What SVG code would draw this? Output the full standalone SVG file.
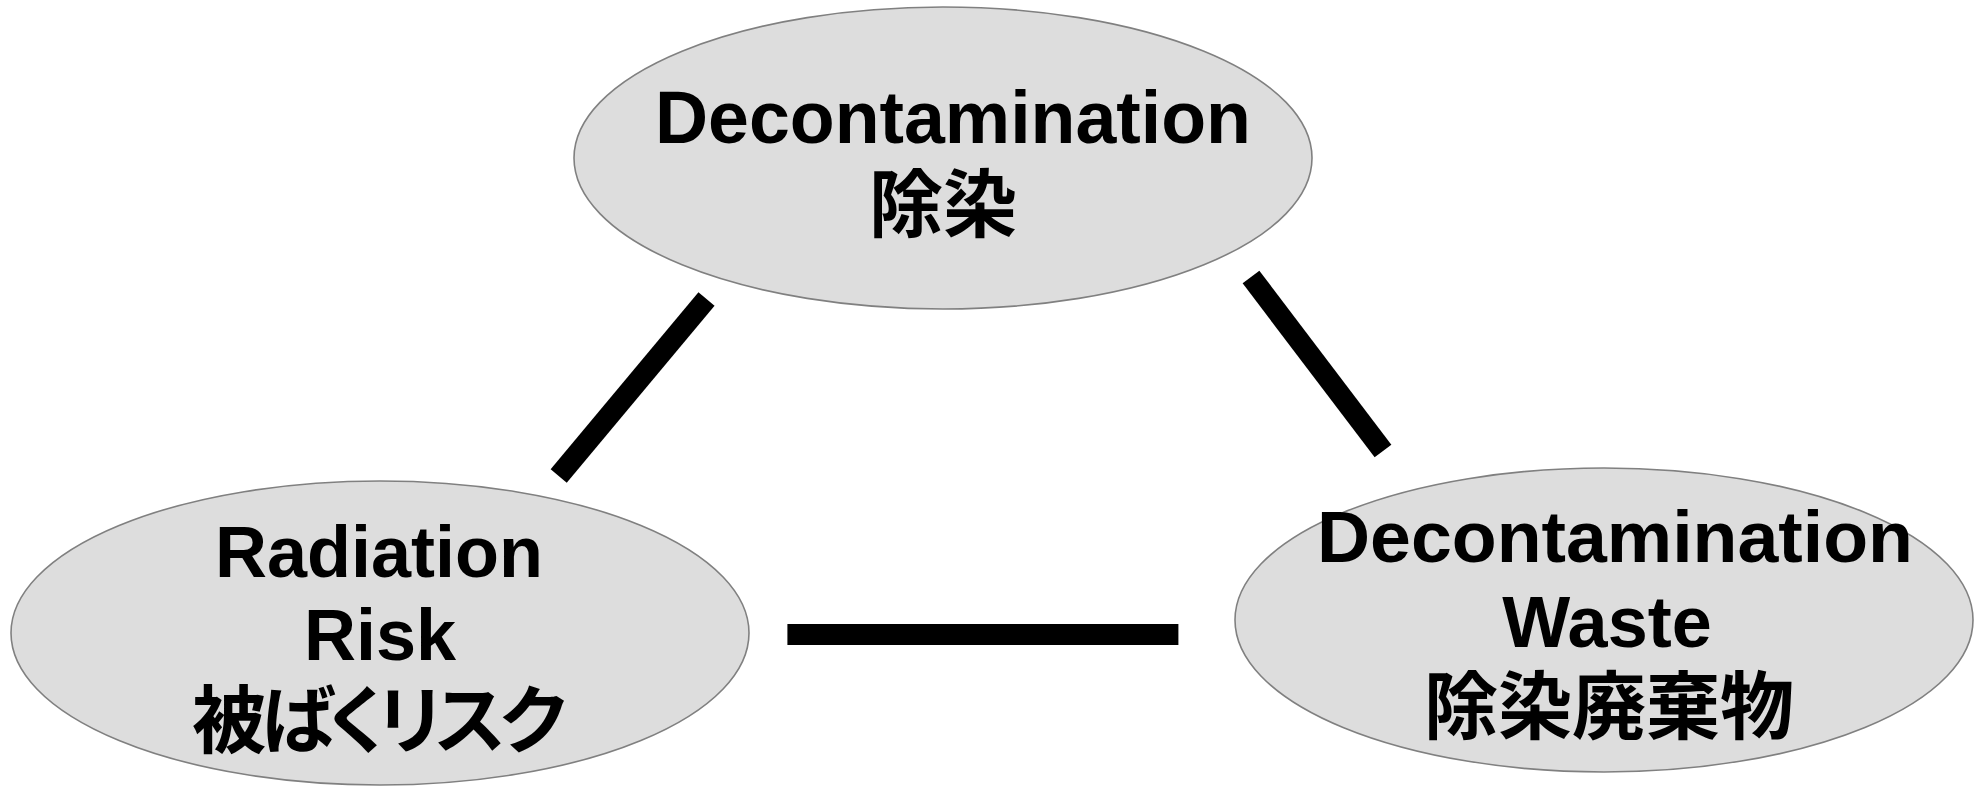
<svg xmlns="http://www.w3.org/2000/svg" width="1976" height="787" viewBox="0 0 1976 787">
<style>
.node ellipse{fill:#dddddd;stroke:#808080;stroke-width:1.6}
.lat{font-family:"Liberation Sans",Arial,sans-serif;font-weight:bold;font-size:72px;fill:#000;text-anchor:middle}
.cjk{font-family:"Liberation Sans","Noto Sans CJK JP",sans-serif;font-weight:bold;font-size:74px;fill:#000;text-anchor:middle}
.conn line{stroke:#000;stroke-width:21;stroke-linecap:butt}
</style>
<rect width="1976" height="787" fill="#ffffff"/>
<g id="connectors" class="conn">
<line x1="706.5" y1="299" x2="558.7" y2="476"/>
<line x1="1251" y1="277" x2="1383" y2="451"/>
<line x1="787.4" y1="634.5" x2="1178.4" y2="634.5"/>
</g>
<g id="decontamination" class="node">
<ellipse cx="943" cy="158" rx="369" ry="151"/>
<text class="lat" x="953" y="143.3" style="font-size:74px" textLength="596" lengthAdjust="spacingAndGlyphs">Decontamination</text>
<text class="cjk" x="943" y="231">除染</text>
</g>
<g id="radiation-risk" class="node">
<ellipse cx="380" cy="633" rx="369" ry="152"/>
<text class="lat" x="379" y="576.7">Radiation</text>
<text class="lat" x="380" y="660">Risk</text>
<text class="cjk" x="379" y="747" style="font-feature-settings:'palt'" textLength="374" lengthAdjust="spacing">被ばくリスク</text>
</g>
<g id="decontamination-waste" class="node">
<ellipse cx="1604" cy="620" rx="369" ry="152"/>
<text class="lat" x="1615" y="561.7" textLength="596" lengthAdjust="spacingAndGlyphs">Decontamination</text>
<text class="lat" x="1607" y="646.7">Waste</text>
<text class="cjk" x="1609" y="733">除染廃棄物</text>
</g>
</svg>
